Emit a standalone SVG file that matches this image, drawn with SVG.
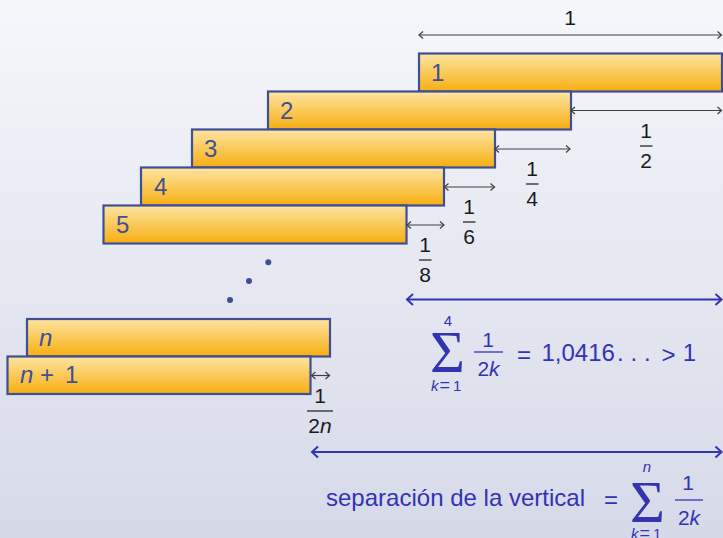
<svg xmlns="http://www.w3.org/2000/svg" width="723" height="538" viewBox="0 0 723 538">
<defs>
<linearGradient id="bg" x1="0" y1="0" x2="0" y2="1">
<stop offset="0" stop-color="#f6f7fb"/>
<stop offset="1" stop-color="#d6d9e8"/>
</linearGradient>
<linearGradient id="bar" x1="0" y1="0" x2="0" y2="1">
<stop offset="0" stop-color="#fde5a3"/>
<stop offset="1" stop-color="#f7ae10"/>
</linearGradient>
<marker id="ga" viewBox="-6 -5 8 10" markerWidth="8" markerHeight="10" refX="0" refY="0" orient="auto-start-reverse" markerUnits="userSpaceOnUse">
<path d="M-4,-3.5 L0,0 L-4,3.5" fill="none" stroke="#404040" stroke-width="1.2"/>
</marker>
<marker id="ba" viewBox="-8 -7 10 14" markerWidth="10" markerHeight="14" refX="0" refY="0" orient="auto-start-reverse" markerUnits="userSpaceOnUse">
<path d="M-6,-5.5 L0,0 L-6,5.5" fill="none" stroke="#3333b3" stroke-width="2"/>
</marker>
</defs>
<style>
.box{fill:url(#bar);stroke:#3e4f98;stroke-width:2.2}
.bl{font-family:"Liberation Sans",Arial,sans-serif;font-size:24px;fill:#3f4f98}
.fr{font-family:"Liberation Sans",Arial,sans-serif;font-size:21px;fill:#1a1a1a;text-anchor:middle}
.fb{stroke:#1a1a1a;stroke-width:1.2}
.ga{stroke:#404040;stroke-width:1.2;fill:none;marker-start:url(#ga);marker-end:url(#ga)}
.ba{stroke:#3333b3;stroke-width:2;fill:none;marker-start:url(#ba);marker-end:url(#ba)}
.bt{font-family:"Liberation Sans",Arial,sans-serif;font-size:24px;fill:#3333b3}
.sig{font-family:"Liberation Serif","Times New Roman",serif;font-size:60px;fill:#3333b3;text-anchor:middle}
.sm{font-family:"Liberation Sans",Arial,sans-serif;font-size:15px;fill:#3333b3}
.bfr{font-family:"Liberation Sans",Arial,sans-serif;font-size:21px;fill:#3333b3;text-anchor:middle}
.it{font-style:italic}
</style>
<rect x="0" y="0" width="723" height="538" fill="url(#bg)"/>

<g id="block1"><rect class="box" x="419" y="53.5" width="303" height="38"/><text class="bl" x="431" y="81">1</text></g>
<g id="block2"><rect class="box" x="268" y="91.5" width="303" height="38"/><text class="bl" x="280" y="119">2</text></g>
<g id="block3"><rect class="box" x="192" y="129.5" width="303" height="38"/><text class="bl" x="204" y="157">3</text></g>
<g id="block4"><rect class="box" x="141" y="167.5" width="303" height="38"/><text class="bl" x="154" y="195">4</text></g>
<g id="block5"><rect class="box" x="103.5" y="205.5" width="303" height="38"/><text class="bl" x="116" y="233">5</text></g>

<g id="dots" fill="#3e4f98">
<circle cx="268.3" cy="262.3" r="3"/>
<circle cx="249" cy="281" r="3"/>
<circle cx="230" cy="300" r="3"/>
</g>

<g id="blockn"><rect class="box" x="27" y="319" width="303" height="37.5"/><text class="bl it" x="39" y="346">n</text></g>
<g id="blockn1"><rect class="box" x="7.5" y="356.5" width="303" height="37.5"/><text class="bl" x="20" y="383"><tspan class="it">n</tspan></text><text class="bl" x="47" y="383" text-anchor="middle" font-size="28">+</text><text class="bl" x="65" y="383">1</text></g>

<g id="connectors">
<line class="ga" x1="419" y1="35" x2="721.5" y2="35"/>
<line class="ga" x1="571" y1="110.5" x2="721.5" y2="110.5"/>
<line class="ga" x1="495" y1="149" x2="570" y2="149"/>
<line class="ga" x1="444.5" y1="187" x2="494.5" y2="187"/>
<line class="ga" x1="407" y1="225" x2="444" y2="225"/>
<line class="ga" x1="311.5" y1="375.5" x2="329.5" y2="375.5"/>
<line class="ba" x1="407" y1="299.5" x2="721.5" y2="299.5"/>
<line class="ba" x1="312" y1="452" x2="721.5" y2="452"/>
</g>

<g id="label-one"><text class="fr" x="570" y="25">1</text></g>
<g id="frac-half"><text class="fr" x="646" y="138">1</text><line class="fb" x1="640" y1="146" x2="652.5" y2="146"/><text class="fr" x="646" y="168">2</text></g>
<g id="frac-quarter"><text class="fr" x="532" y="176">1</text><line class="fb" x1="526" y1="184" x2="538.5" y2="184"/><text class="fr" x="532" y="206">4</text></g>
<g id="frac-sixth"><text class="fr" x="469" y="214">1</text><line class="fb" x1="463" y1="222" x2="475.5" y2="222"/><text class="fr" x="469" y="244">6</text></g>
<g id="frac-eighth"><text class="fr" x="425" y="252">1</text><line class="fb" x1="419" y1="260" x2="431.5" y2="260"/><text class="fr" x="425" y="282">8</text></g>
<g id="frac-2n"><text class="fr" x="320" y="403">1</text><line class="fb" x1="307" y1="411" x2="333" y2="411"/><text class="fr" x="320" y="433">2<tspan class="it">n</tspan></text></g>

<g id="sum4">
<text class="sig" x="447.5" y="372">Σ</text>
<text class="sm" x="448" y="326" text-anchor="middle" font-size="13">4</text>
<text class="sm" y="391"><tspan class="it" x="431">k</tspan><tspan x="439.5" font-size="18">=</tspan><tspan x="453">1</tspan></text>
<text class="bfr" x="488" y="347">1</text>
<line x1="474" y1="352" x2="503" y2="352" stroke="#3333b3" stroke-width="1.3"/>
<text class="bfr" x="488.5" y="376">2<tspan class="it">k</tspan></text>
<text class="bt" x="524" y="363" text-anchor="middle" font-size="33">=</text>
<text class="bt" x="541.5" y="361">1,0416</text>
<text class="bt" y="361" x="617 630.5 644">...</text>
<text class="bt" x="668.5" y="363" text-anchor="middle" font-size="32">&gt;</text>
<text class="bt" x="689.5" y="361" text-anchor="middle">1</text>
</g>

<g id="sumn">
<text class="bt" x="326" y="506" textLength="259" lengthAdjust="spacing">separación de la vertical</text>
<text class="bt" x="611" y="508" text-anchor="middle" font-size="33">=</text>
<text class="sig" x="647.5" y="522">Σ</text>
<text class="sm it" x="647" y="472" text-anchor="middle" font-size="13">n</text>
<text class="sm" y="539"><tspan class="it" x="631">k</tspan><tspan x="639.5" font-size="18">=</tspan><tspan x="653">1</tspan></text>
<text class="bfr" x="688" y="490">1</text>
<line x1="675" y1="500" x2="703" y2="500" stroke="#3333b3" stroke-width="1.3"/>
<text class="bfr" x="689" y="525">2<tspan class="it">k</tspan></text>
</g>
</svg>
